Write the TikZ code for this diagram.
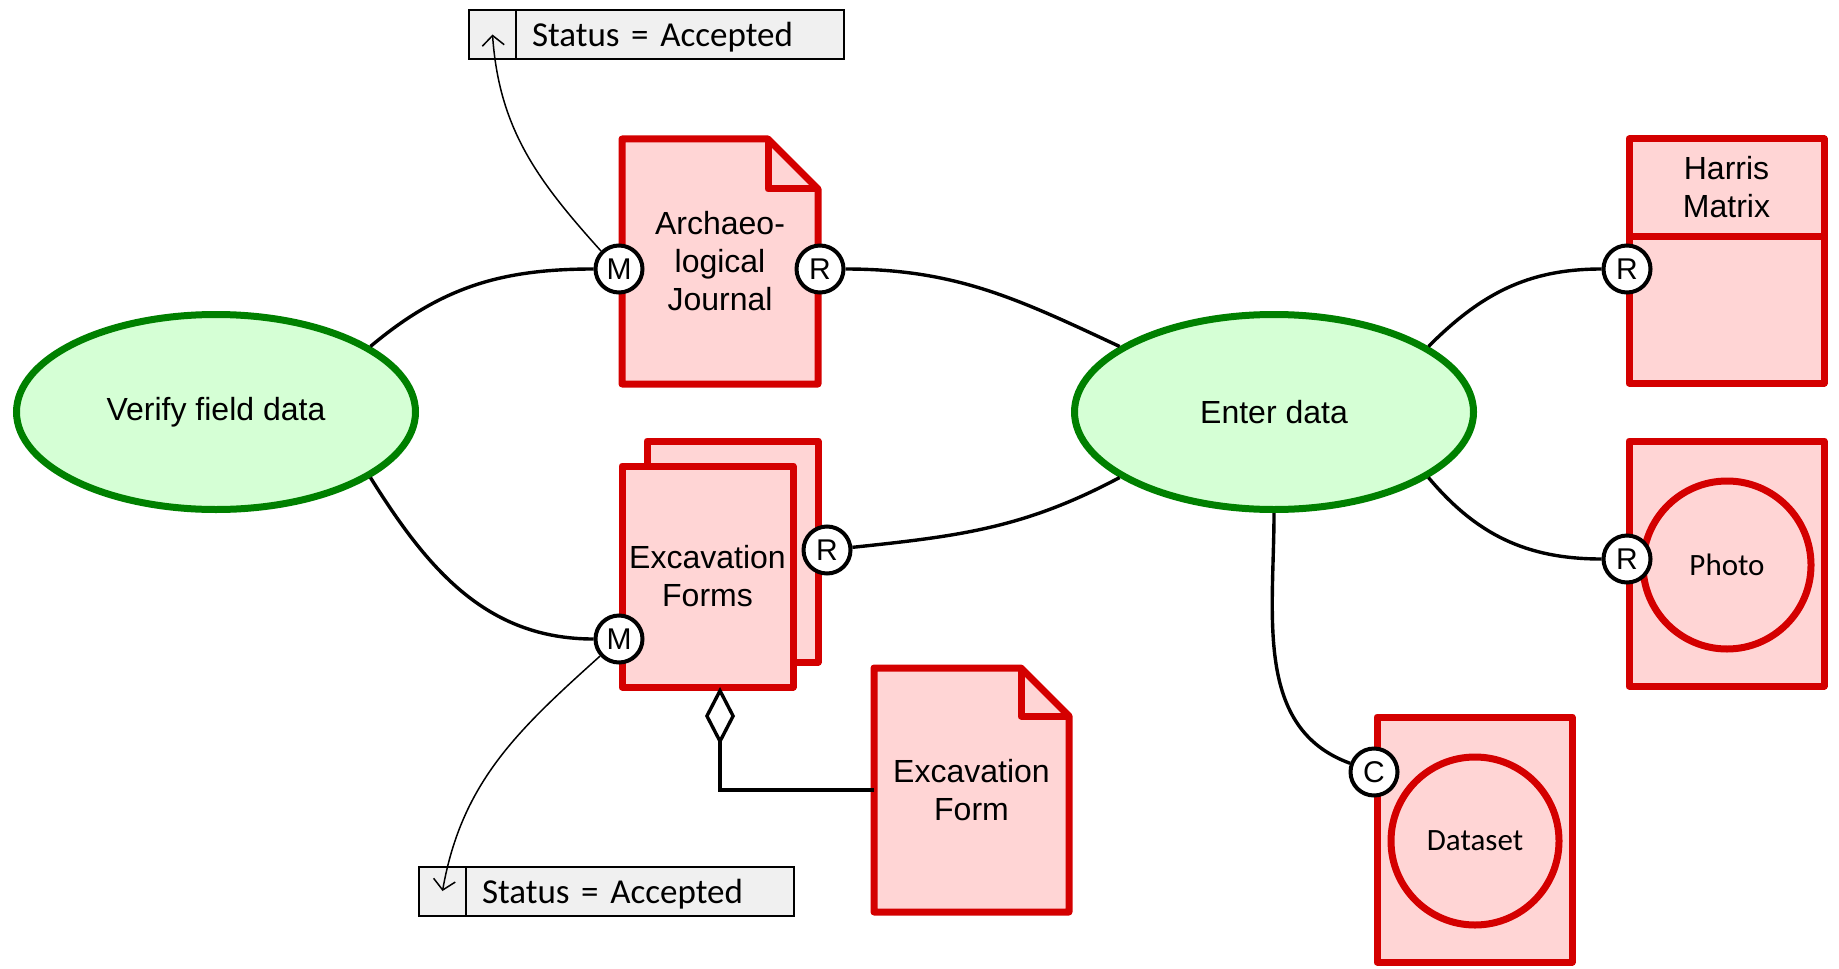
\documentclass[tikz,border=0pt]{standalone}
\usepackage{fontspec}
\setmainfont{Liberation Sans}
\newfontfamily\calibri{Carlito}
\usetikzlibrary{arrows.meta,calc,positioning,shapes.geometric}

\definecolor{procfill}{RGB}{213,255,213}
\definecolor{procedge}{RGB}{0,128,0}
\definecolor{docfill}{RGB}{255,213,213}
\definecolor{docred}{RGB}{212,0,0}
\definecolor{statfill}{RGB}{240,240,240}

\begin{document}
\begin{tikzpicture}[
  x=0.5pt,y=-0.5pt,
  every node/.style={font=\fontsize{16}{19}\selectfont},
  process/.style={ellipse,draw=procedge,fill=procfill,line width=3.5pt,
                  minimum width=199.5pt,minimum height=97.5pt,inner sep=0pt},
  docarea/.style={rectangle,minimum width=98pt,minimum height=122pt,
                  inner sep=0pt,outer sep=0pt,align=center},
  docedge/.style={draw=docred,fill=docfill,line width=3.5pt,line join=round},
  artefact/.style={circle,draw=docred,fill=docfill,line width=3.5pt,
                   minimum size=84pt,inner sep=0pt,
                   font=\calibri\fontsize{15.5}{18}\selectfont},
  port/.style={circle,draw=black,fill=white,line width=2pt,
               minimum size=23.5pt,inner sep=0pt,
               font=\fontsize{15}{15}\selectfont},
  link/.style={line width=1.7pt},
  statecell/.style={rectangle,draw=black,fill=statfill,line width=1pt,
                    minimum width=23.5pt,minimum height=24.5pt,
                    inner sep=0pt,outer sep=0pt},
  statetext/.style={statecell,text width=148pt,inner xsep=8pt,align=left,
                    text depth=0pt,
                    font=\calibri\fontsize{17.5}{20}\selectfont},
  statearrow/.style={line width=0.75pt,
                     -{Straight Barb[length=5pt,width=11pt]}},
  aggregate/.style={line width=1.7pt,line join=miter,
                    -{Diamond[open,length=29pt,width=15pt]}}
]
\useasboundingbox (0,0) rectangle (1839,968);

% activities
\node[process] (verify) at (216,412) {Verify field data};
\node[process] (enter)  at (1274,412) {Enter data};

% archaeological journal
\coordinate (ajBox) at (720,261.5);
\draw[docedge] ($(ajBox)+(-98,122.5)$) -- ($(ajBox)+(-98,-122.5)$)
  -- ($(ajBox)+(48,-122.5)$) -- ($(ajBox)+(98,-72.5)$)
  -- ($(ajBox)+(98,122.5)$) -- cycle;
\draw[docedge,fill=none] ($(ajBox)+(48,-122.5)$) |- ($(ajBox)+(98,-72.5)$);
\node[docarea,minimum height=122.5pt] (aj) at (ajBox) {Archaeo-\\logical\\Journal};

% excavation forms (stack)
\node[docarea,minimum width=98pt,minimum height=123pt] (forms) at (720,564) {};
\draw[docedge] (forms.north east) rectangle ($(forms.south east)+(-171,-25)$);
\draw[docedge] (forms.south west) rectangle ($(forms.north west)+(171,25)$);
\node[align=center] (formsText) at ($(forms.center)+(-12.5,12.5)$) {Excavation\\Forms};

% excavation form
\coordinate (exBox) at (971.5,790);
\draw[docedge] ($(exBox)+(-97.5,122)$) -- ($(exBox)+(-97.5,-122)$)
  -- ($(exBox)+(49.5,-122)$) -- ($(exBox)+(97.5,-74)$)
  -- ($(exBox)+(97.5,122)$) -- cycle;
\draw[docedge,fill=none] ($(exBox)+(49.5,-122)$) |- ($(exBox)+(97.5,-74)$);
\node[docarea,minimum width=97.5pt] (exForm) at (exBox) {Excavation\\Form};

% harris matrix
\node[docarea,minimum width=97.5pt] (hm) at (1726.5,261) {};
\draw[docedge] (hm.south west) rectangle (hm.north east);
\draw[docedge] ($(hm.north west)+(0,97)$) -- ($(hm.north east)+(0,97)$);
\node[align=center] (hmText) at ($(hm.north)+(0,48)$) {Harris\\Matrix};

% photo and dataset
\node[docarea,minimum width=97.5pt,minimum height=122.5pt] (ph) at (1726.5,563.5) {};
\draw[docedge] (ph.south west) rectangle (ph.north east);
\node[artefact] (phCircle) at (1727,565) {Photo};

\node[docarea,minimum width=97.5pt,minimum height=122.5pt] (ds) at (1474.5,839.5) {};
\draw[docedge] (ds.south west) rectangle (ds.north east);
\node[artefact] (dsCircle) at (1475,841) {Dataset};

% ports
\node[port] (ajM) at (619,269)  {M};
\node[port] (ajR) at (820,269)  {R};
\node[port] (fmM) at (619,639)  {M};
\node[port] (fmR) at (827,550)  {R};
\node[port] (hmR) at (1627,269) {R};
\node[port] (phR) at (1627,559) {R};
\node[port] (dsC) at (1374,772) {C};

% connectors
\draw[link] (verify.23)  to[out=40,in=180]  (ajM);
\draw[link] (verify.-23) to[out=-58,in=180] (fmM);
\draw[link] (ajR)        to[out=0,in=155]   (enter.157);
\draw[link] (fmR)        to[out=6,in=208]   (enter.203);
\draw[link] (enter.23)   to[out=45,in=180]  (hmR);
\draw[link] (enter.-23)  to[out=-50,in=180] (phR);
\draw[link] (enter.south) to[out=-90,in=160] (dsC);
\draw[aggregate] (exForm.west) -| (forms.south);

% status conditions
\node[statecell] (acceptAJcell) at (492.5,34.5) {};
\node[statetext,right=0pt of acceptAJcell] (acceptAJ) {Status = Accepted};
\node[statecell] (acceptFMcell) at (442.5,891) {};
\node[statetext,right=0pt of acceptFMcell] (acceptFM) {Status = Accepted};

\draw[statearrow] (ajM.135) to[out=132,in=-86] (acceptAJcell.center);
\draw[statearrow] (fmM.222) to[out=222,in=80]  (acceptFMcell.center);
\end{tikzpicture}
\end{document}
